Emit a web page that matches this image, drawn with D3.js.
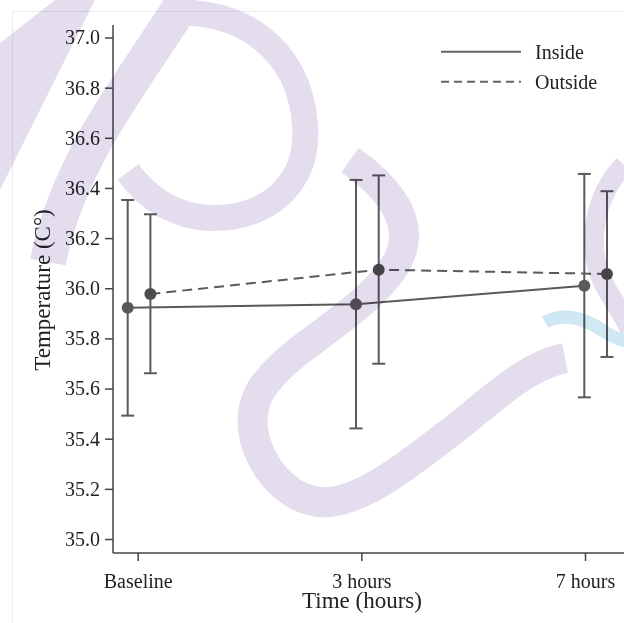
<!DOCTYPE html>
<html><head><meta charset="utf-8">
<script src="https://cdn.jsdelivr.net/npm/d3@7"></script>
<style>
body{margin:0;background:#fff}
svg{display:block}
text{font-family:"Liberation Serif","Times New Roman",serif;fill:#222}
</style>
</head><body>
<svg id="c" width="624" height="623" font-family="Liberation Serif, serif"></svg>
<script>
// ---- data ----
const categories = ["Baseline", "3 hours", "7 hours"];
const seriesNames = ["Inside", "Outside"];
const insideMean  = [35.922, 35.936, 36.010];
const insideUpper = [36.352, 36.432, 36.456];
const insideLower = [35.492, 35.441, 35.565];
const outsideMean  = [35.977, 36.074, 36.057];
const outsideUpper = [36.295, 36.450, 36.387];
const outsideLower = [35.661, 35.699, 35.726];
const yTicks = [35.0, 35.2, 35.4, 35.6, 35.8, 36.0, 36.2, 36.4, 36.6, 36.8, 37.0];
const xTitle = "Time (hours)";
const yTitle = "Temperature (C°)";

const series = [
  {name: seriesNames[0], mean: insideMean, lo: insideLower, hi: insideUpper, dash: null, dodge: 0, fill: "#595959"},
  {name: seriesNames[1], mean: outsideMean, lo: outsideLower, hi: outsideUpper, dash: "10,6", dodge: 22.7, fill: "#4d4d4d"}
];

const FONT = "Liberation Serif, Times New Roman, serif";
const svg = d3.select("#c");

// panel frame
svg.append("rect").attr("x", 12.5).attr("y", 11.5).attr("width", 700).attr("height", 700)
  .attr("fill", "none").attr("stroke", "#ececec").attr("stroke-width", 1);

// scales
const x = d3.scalePoint().domain(categories).range([137.7, 585]);      // axis ticks
const xm = d3.scalePoint().domain(categories).range([127.7, 584.3]);   // marks
const y = d3.scaleLinear().domain([35, 37]).range([539, 37.5]);

const axisColor = "#444";

// y axis
const gy = svg.append("g").attr("transform", "translate(113,0)")
  .call(d3.axisLeft(y).tickValues(yTicks).tickFormat(d3.format(".1f")).tickSize(8).tickPadding(5));
gy.attr("font-family", FONT).attr("font-size", 20);
gy.select(".domain").remove();
gy.selectAll(".tick line").attr("stroke", axisColor).attr("stroke-width", 1.5);
gy.selectAll(".tick text").attr("fill", "#2a2a2a").attr("font-family", FONT).attr("font-size", 20);
gy.append("line").attr("x1", 0).attr("x2", 0).attr("y1", y(37) - 12.5).attr("y2", y(35) + 14)
  .attr("stroke", axisColor).attr("stroke-width", 1.5);

// x axis
const gx = svg.append("g").attr("transform", `translate(0,${y(35) + 14})`)
  .call(d3.axisBottom(x).tickSize(8).tickPadding(13));
gx.attr("font-family", FONT).attr("font-size", 20);
gx.select(".domain").remove();
gx.selectAll(".tick line").attr("stroke", axisColor).attr("stroke-width", 1.5);
gx.selectAll(".tick text").attr("fill", "#2a2a2a").attr("font-family", FONT).attr("font-size", 20);
gx.append("line").attr("x1", 113).attr("x2", 640).attr("y1", 0).attr("y2", 0)
  .attr("stroke", axisColor).attr("stroke-width", 1.5);

// titles
svg.append("text").attr("x", 362).attr("y", 608).attr("text-anchor", "middle")
  .attr("font-family", FONT).attr("font-size", 23).text(xTitle);
svg.append("text").attr("transform", "translate(50,290) rotate(-90)").attr("text-anchor", "middle")
  .attr("font-family", FONT).attr("font-size", 23).text(yTitle);

// series
const lineColor = "#5a5a5a";
series.forEach(s => {
  const pts = categories.map((c, i) => ({c, i, m: s.mean[i], lo: s.lo[i], hi: s.hi[i]}));
  const px = d => xm(d.c) + s.dodge;
  const line = d3.line().x(px).y(d => y(d.m));
  svg.append("path").datum(pts).attr("d", line).attr("fill", "none")
    .attr("stroke", lineColor).attr("stroke-width", 2)
    .attr("stroke-dasharray", s.dash);
  const g = svg.append("g");
  g.selectAll(".eb").data(pts).join("line").attr("class", "eb")
    .attr("x1", px).attr("x2", px).attr("y1", d => y(d.hi)).attr("y2", d => y(d.lo))
    .attr("stroke", lineColor).attr("stroke-width", 2);
  ["hi", "lo"].forEach(k => {
    g.selectAll(".cap" + k).data(pts).join("line").attr("class", "cap" + k)
      .attr("x1", d => px(d) - 6.5).attr("x2", d => px(d) + 6.5)
      .attr("y1", d => y(d[k])).attr("y2", d => y(d[k]))
      .attr("stroke", lineColor).attr("stroke-width", 2);
  });
  g.selectAll("circle").data(pts).join("circle")
    .attr("cx", px).attr("cy", d => y(d.m)).attr("r", 6).attr("fill", s.fill);
});

// legend
const lg = svg.append("g");
series.forEach((s, i) => {
  const yy = 51.7 + i * 30;
  lg.append("line").attr("x1", 441).attr("x2", 521).attr("y1", yy).attr("y2", yy)
    .attr("stroke", "#666").attr("stroke-width", 2).attr("stroke-dasharray", s.dash ? "8,5" : null);
  lg.append("text").attr("x", 535).attr("y", yy + 7)
    .attr("font-family", FONT).attr("font-size", 20).text(s.name);
});

// watermark (decorative overlay)
const wm = svg.append("g").style("mix-blend-mode", "multiply").attr("fill", "none");
const lav = "#e3ddee";
wm.append("path").attr("d", "M55,0 L95,0 L0,190 L0,43 Z").attr("fill", lav);
wm.append("path").attr("d", "M188,-5 C160,40 120,95 95,140 C72,182 55,225 48,262")
  .attr("stroke", lav).attr("stroke-width", 36);
wm.append("path").attr("d", "M165,14 C240,5 300,50 305,125 C310,185 265,220 210,218 C170,216 145,195 128,172")
  .attr("stroke", lav).attr("stroke-width", 26);
wm.append("path").attr("d", "M350,160 C385,185 412,215 402,250 C392,285 340,320 300,350 C265,378 245,400 255,440 C265,475 295,505 330,502 C370,498 420,455 460,425 C500,392 530,365 565,358")
  .attr("stroke", lav).attr("stroke-width", 30);
wm.append("path").attr("d", "M624,165 C595,195 585,245 603,282 C612,300 624,315 630,330")
  .attr("stroke", lav).attr("stroke-width", 20);
wm.append("path").attr("d", "M545,322 C565,312 585,318 605,332 C612,337 620,340 630,342")
  .attr("stroke", "#cfe8f4").attr("stroke-width", 13);
</script>
</body></html>
